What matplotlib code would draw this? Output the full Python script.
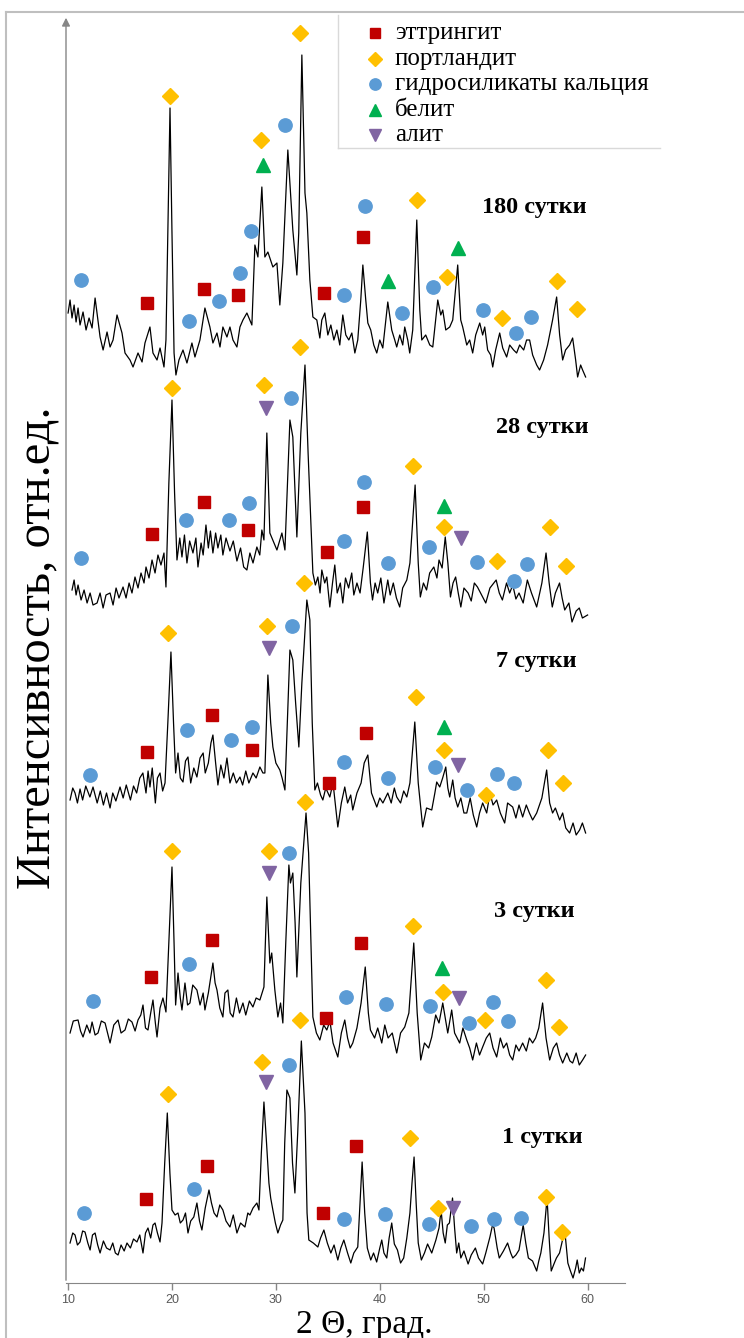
import numpy as np
import matplotlib
matplotlib.use('Agg')
import matplotlib.pyplot as plt
from matplotlib.lines import Line2D

# XRD patterns (2theta, intensity in arbitrary units, curves already stacked)
day180 = [(10.00, 970), (10.19, 983), (10.38, 965), (10.58, 978), (10.77, 961), (10.96, 975), (11.15, 958),
          (11.44, 971), (11.73, 953), (12.02, 965), (12.31, 955), (12.60, 985), (13.08, 946), (13.37, 933),
          (13.75, 951), (14.04, 936), (14.33, 943), (14.71, 968), (15.19, 950), (15.48, 930), (15.96, 923),
          (16.25, 916), (16.73, 930), (17.12, 921), (17.40, 940), (17.88, 956), (18.17, 930), (18.56, 923),
          (18.85, 935), (19.23, 916), (19.42, 943), (19.62, 1060), (19.81, 1175), (20.00, 1050), (20.20, 930),
          (20.38, 908), (20.67, 923), (21.06, 933), (21.44, 920), (21.92, 940), (22.21, 926), (22.69, 943),
          (23.17, 975), (23.65, 956), (23.94, 940), (24.33, 950), (24.62, 936), (24.90, 956), (25.29, 946),
          (25.58, 956), (25.87, 943), (26.25, 936), (26.54, 956), (26.83, 963), (27.21, 970), (27.69, 958),
          (27.98, 1038), (28.27, 1026), (28.65, 1096), (28.94, 1026), (29.23, 1031), (29.71, 1016), (30.10, 1020),
          (30.38, 978), (30.67, 1020), (31.15, 1133), (31.63, 1053), (32.02, 1008), (32.20, 1050), (32.50, 1228),
          (32.80, 1090), (32.98, 1070), (33.27, 1003), (33.56, 966), (33.94, 963), (34.23, 945), (34.42, 963),
          (34.71, 970), (35.00, 948), (35.29, 958), (35.58, 943), (35.87, 953), (36.15, 938), (36.44, 968),
          (36.73, 948), (37.02, 943), (37.31, 950), (37.60, 930), (37.88, 943), (38.17, 983), (38.37, 1018),
          (38.65, 983), (38.85, 960), (39.13, 953), (39.42, 938), (39.71, 930), (40.00, 943), (40.29, 935),
          (40.77, 981), (41.15, 953), (41.44, 943), (41.63, 936), (41.92, 948), (42.21, 938), (42.40, 956),
          (42.69, 943), (42.88, 930), (43.17, 953), (43.56, 1063), (43.85, 973), (44.04, 943), (44.42, 948),
          (44.81, 938), (45.10, 936), (45.38, 963), (45.58, 983), (45.87, 968), (46.06, 973), (46.35, 953),
          (46.73, 956), (47.02, 963), (47.50, 1018), (47.79, 963), (47.98, 956), (48.37, 938), (48.65, 943),
          (48.94, 930), (49.23, 948), (49.62, 960), (49.90, 948), (50.10, 956), (50.38, 933), (50.67, 928),
          (50.87, 916), (51.15, 933), (51.54, 950), (51.83, 935), (52.21, 926), (52.50, 938), (52.88, 933),
          (53.17, 930), (53.46, 938), (53.85, 933), (54.13, 943), (54.42, 943), (54.71, 928), (55.10, 918),
          (55.38, 913), (55.77, 923), (56.15, 938), (56.63, 963), (57.02, 986), (57.31, 948), (57.60, 923),
          (57.88, 933), (58.27, 938), (58.56, 945), (58.85, 923), (59.04, 906), (59.33, 918), (59.52, 913),
          (59.81, 906)]

day28 = [(10.38, 693), (10.58, 703), (10.77, 688), (10.96, 698), (11.25, 683), (11.54, 693), (11.83, 680),
         (12.12, 690), (12.40, 678), (12.79, 680), (13.08, 690), (13.37, 675), (13.65, 688), (14.04, 690),
         (14.33, 678), (14.62, 695), (14.90, 685), (15.29, 696), (15.58, 685), (15.87, 700), (16.15, 690),
         (16.44, 706), (16.73, 695), (17.02, 710), (17.31, 700), (17.50, 716), (17.79, 705), (18.08, 723),
         (18.37, 710), (18.65, 728), (18.94, 718), (19.23, 730), (19.42, 696), (19.70, 800), (20.00, 883),
         (20.25, 790), (20.48, 723), (20.75, 745), (20.96, 726), (21.20, 748), (21.44, 720), (21.70, 742),
         (22.02, 730), (22.30, 745), (22.50, 716), (22.80, 740), (23.00, 728), (23.27, 758), (23.50, 735),
         (23.70, 752), (23.94, 730), (24.20, 750), (24.42, 735), (24.70, 748), (24.90, 728), (25.20, 745),
         (25.58, 732), (25.90, 742), (26.25, 722), (26.60, 735), (26.90, 716), (27.21, 713), (27.50, 730),
         (27.80, 720), (28.17, 736), (28.45, 728), (28.65, 753), (28.85, 743), (29.13, 850), (29.42, 750),
         (30.10, 733), (30.58, 750), (30.87, 733), (31.35, 863), (31.63, 846), (32.02, 746), (32.40, 850),
         (32.80, 918), (33.10, 830), (33.56, 710), (33.80, 698), (34.04, 706), (34.25, 690), (34.42, 713),
         (34.70, 700), (34.90, 706), (35.19, 676), (35.45, 700), (35.67, 718), (35.90, 690), (36.20, 700),
         (36.44, 680), (36.70, 705), (37.00, 695), (37.30, 710), (37.50, 688), (37.80, 700), (38.10, 690),
         (38.40, 715), (38.80, 751), (39.10, 700), (39.30, 683), (39.55, 700), (39.80, 690), (40.10, 705),
         (40.40, 680), (40.77, 703), (41.00, 688), (41.30, 700), (41.60, 685), (41.92, 676), (42.20, 695),
         (42.60, 703), (42.90, 720), (43.40, 798), (43.70, 720), (43.90, 686), (44.20, 700), (44.50, 693),
         (44.80, 710), (45.20, 716), (45.50, 705), (45.70, 723), (46.00, 715), (46.30, 746), (46.55, 720),
         (46.80, 686), (47.05, 700), (47.30, 706), (47.55, 690), (47.80, 676), (48.10, 695), (48.50, 690),
         (48.80, 682), (49.10, 700), (49.40, 696), (49.80, 688), (50.20, 680), (50.60, 695), (51.20, 703),
         (51.50, 690), (51.80, 683), (52.20, 700), (52.50, 690), (52.80, 698), (53.10, 684), (53.40, 690),
         (53.80, 680), (54.20, 703), (54.60, 690), (55.10, 676), (55.60, 700), (56.00, 730), (56.30, 700),
         (56.60, 676), (56.90, 690), (57.30, 700), (57.55, 685), (57.80, 673), (58.20, 680), (58.50, 661),
         (58.90, 672), (59.20, 675), (59.50, 665), (60.00, 668)]

day7 = [(10.19, 483), (10.45, 495), (10.67, 490), (10.90, 480), (11.15, 494), (11.40, 483), (11.70, 497),
        (12.10, 486), (12.40, 496), (12.80, 480), (13.10, 492), (13.40, 478), (13.70, 490), (14.04, 475),
        (14.30, 490), (14.60, 482), (15.00, 496), (15.30, 485), (15.60, 498), (16.00, 483), (16.30, 497),
        (16.60, 490), (16.90, 505), (17.20, 510), (17.50, 490), (17.70, 512), (17.88, 496), (18.10, 515),
        (18.40, 480), (18.60, 505), (18.85, 510), (19.10, 492), (19.33, 500), (19.60, 560), (19.90, 631),
        (20.15, 560), (20.35, 510), (20.58, 530), (20.80, 505), (21.06, 501), (21.30, 522), (21.54, 526),
        (21.80, 500), (22.10, 515), (22.40, 506), (22.70, 525), (23.00, 530), (23.20, 510), (23.50, 520),
        (23.75, 540), (23.94, 548), (24.20, 520), (24.42, 498), (24.70, 518), (25.00, 505), (25.29, 525),
        (25.58, 500), (25.90, 510), (26.20, 500), (26.54, 506), (26.80, 498), (27.10, 512), (27.40, 500),
        (27.79, 510), (28.10, 505), (28.46, 516), (28.75, 510), (28.94, 510), (29.23, 608), (29.50, 560),
        (29.71, 536), (30.00, 520), (30.38, 513), (30.60, 505), (30.87, 493), (31.10, 560), (31.35, 633),
        (31.63, 623), (31.90, 580), (32.21, 536), (32.50, 600), (32.98, 683), (33.27, 663), (33.50, 560),
        (33.75, 493), (34.00, 500), (34.30, 488), (34.52, 483), (34.80, 495), (35.19, 486), (35.50, 500),
        (35.96, 456), (36.30, 480), (36.63, 496), (36.90, 480), (37.20, 488), (37.40, 473), (37.80, 490),
        (38.20, 500), (38.50, 520), (38.85, 528), (39.20, 490), (39.71, 476), (40.00, 485), (40.30, 480),
        (40.77, 490), (41.10, 480), (41.40, 495), (41.63, 486), (42.00, 480), (42.30, 492), (42.60, 486),
        (42.90, 500), (43.37, 561), (43.70, 500), (44.13, 456), (44.50, 475), (45.00, 473), (45.30, 490),
        (45.48, 501), (45.77, 496), (46.05, 505), (46.35, 516), (46.55, 495), (46.73, 486), (47.02, 503),
        (47.25, 485), (47.50, 476), (47.80, 485), (48.10, 470), (48.37, 470), (48.70, 485), (49.00, 468),
        (49.33, 456), (49.60, 470), (49.90, 480), (50.29, 470), (50.60, 490), (50.90, 478), (51.25, 483),
        (51.60, 470), (52.02, 460), (52.30, 480), (52.79, 476), (53.10, 465), (53.40, 478), (53.75, 466),
        (54.10, 478), (54.40, 470), (54.71, 463), (55.10, 470), (55.60, 485), (56.06, 513), (56.35, 480),
        (56.63, 470), (56.90, 475), (57.31, 463), (57.60, 470), (57.90, 455), (58.27, 450), (58.60, 460),
        (58.90, 448), (59.23, 453), (59.50, 460), (59.81, 450)]

day3 = [(10.19, 250), (10.50, 262), (10.96, 263), (11.20, 252), (11.44, 246), (11.80, 258), (12.10, 250),
        (12.31, 261), (12.60, 248), (12.88, 250), (13.20, 262), (13.56, 260), (13.80, 250), (14.04, 240),
        (14.40, 258), (14.81, 263), (15.10, 250), (15.48, 253), (15.80, 264), (16.15, 261), (16.45, 252),
        (16.73, 263), (17.00, 268), (17.21, 278), (17.45, 255), (17.69, 253), (17.95, 270), (18.17, 283),
        (18.40, 260), (18.56, 246), (18.85, 275), (19.13, 285), (19.42, 271), (19.70, 340), (20.00, 416),
        (20.20, 340), (20.35, 278), (20.58, 310), (20.80, 285), (20.96, 273), (21.25, 300), (21.50, 278),
        (21.73, 280), (22.00, 298), (22.40, 293), (22.70, 278), (23.00, 290), (23.17, 273), (23.50, 290),
        (23.94, 320), (24.15, 300), (24.33, 293), (24.60, 275), (24.90, 266), (25.10, 290), (25.38, 293),
        (25.60, 270), (25.87, 266), (26.20, 285), (26.50, 270), (26.83, 280), (27.10, 268), (27.45, 282),
        (27.79, 276), (28.10, 285), (28.46, 283), (28.85, 296), (29.13, 386), (29.42, 320), (29.60, 330),
        (29.90, 293), (30.19, 266), (30.45, 280), (30.67, 260), (30.95, 340), (31.25, 418), (31.40, 400),
        (31.63, 410), (31.85, 360), (32.02, 306), (32.40, 400), (32.90, 470), (33.15, 430), (33.40, 330),
        (33.56, 266), (33.90, 250), (34.23, 243), (34.60, 258), (34.90, 253), (35.20, 262), (35.50, 240),
        (35.96, 226), (36.30, 250), (36.63, 263), (36.90, 245), (37.15, 235), (37.40, 240), (37.80, 255),
        (38.20, 280), (38.60, 316), (38.90, 270), (39.10, 253), (39.50, 245), (39.80, 255), (40.19, 240),
        (40.48, 258), (40.80, 245), (41.20, 250), (41.63, 230), (42.00, 250), (42.40, 256), (42.80, 270),
        (43.27, 340), (43.60, 270), (43.94, 223), (44.30, 240), (44.70, 235), (45.00, 246), (45.38, 268),
        (45.70, 260), (46.06, 280), (46.30, 265), (46.54, 250), (46.92, 273), (47.20, 250), (47.69, 240),
        (48.00, 255), (48.37, 243), (48.65, 235), (48.94, 223), (49.30, 240), (49.60, 228), (49.90, 236),
        (50.25, 245), (50.58, 250), (50.90, 235), (51.25, 226), (51.60, 245), (51.90, 235), (52.21, 240),
        (52.50, 228), (52.79, 223), (53.10, 238), (53.40, 232), (53.75, 240), (54.10, 232), (54.40, 245),
        (54.71, 240), (55.00, 245), (55.30, 255), (55.67, 280), (56.00, 245), (56.35, 223), (56.70, 235),
        (57.02, 240), (57.30, 228), (57.60, 220), (58.00, 230), (58.30, 222), (58.56, 220), (58.90, 230),
        (59.20, 218), (59.52, 223), (59.81, 228)]

day1 = [(10.19, 40), (10.45, 50), (10.67, 48), (10.90, 38), (11.15, 41), (11.40, 52), (11.63, 51),
        (11.90, 40), (12.12, 33), (12.35, 48), (12.60, 50), (12.85, 38), (13.08, 30), (13.40, 42),
        (13.70, 35), (14.04, 33), (14.30, 40), (14.55, 30), (14.81, 28), (15.10, 38), (15.40, 32),
        (15.67, 40), (16.00, 35), (16.30, 44), (16.63, 41), (16.90, 48), (17.21, 30), (17.45, 50),
        (17.69, 55), (17.95, 45), (18.17, 58), (18.37, 60), (18.60, 50), (18.85, 41), (19.04, 60),
        (19.30, 120), (19.55, 170), (19.80, 110), (20.00, 73), (20.30, 68), (20.58, 70), (20.80, 60),
        (21.06, 63), (21.30, 70), (21.54, 50), (21.80, 62), (22.10, 66), (22.40, 80), (22.65, 62),
        (22.88, 53), (23.20, 75), (23.56, 93), (23.80, 80), (24.05, 70), (24.33, 66), (24.60, 78),
        (24.90, 73), (25.20, 62), (25.58, 56), (25.90, 68), (26.25, 50), (26.60, 60), (27.02, 56),
        (27.30, 70), (27.50, 68), (27.80, 75), (28.17, 80), (28.37, 73), (28.60, 130), (28.85, 181),
        (29.10, 140), (29.33, 100), (29.50, 85), (29.71, 73), (29.95, 60), (30.19, 50), (30.45, 58),
        (30.67, 63), (30.85, 140), (31.06, 193), (31.35, 185), (31.60, 120), (31.83, 90), (32.10, 150),
        (32.45, 242), (32.80, 170), (33.00, 70), (33.17, 43), (33.60, 40), (34.04, 36), (34.30, 45),
        (34.62, 53), (34.95, 40), (35.29, 30), (35.60, 38), (35.96, 23), (36.25, 35), (36.54, 43),
        (36.90, 30), (37.21, 20), (37.50, 30), (37.88, 36), (38.10, 80), (38.30, 121), (38.55, 70),
        (38.80, 35), (39.13, 23), (39.40, 30), (39.70, 21), (40.00, 35), (40.19, 43), (40.40, 30),
        (40.67, 25), (40.90, 45), (41.15, 60), (41.40, 39), (41.70, 33), (42.00, 20), (42.30, 25),
        (42.60, 45), (42.90, 70), (43.10, 100), (43.30, 126), (43.50, 80), (43.70, 40), (44.00, 23),
        (44.30, 30), (44.60, 39), (45.00, 30), (45.40, 43), (45.70, 55), (45.90, 73), (46.10, 50),
        (46.30, 40), (46.50, 58), (46.70, 60), (47.00, 85), (47.20, 55), (47.40, 30), (47.60, 40),
        (47.80, 25), (48.10, 32), (48.50, 19), (48.80, 28), (49.20, 35), (49.50, 25), (49.90, 19),
        (50.20, 30), (50.60, 46), (50.85, 58), (51.00, 55), (51.30, 35), (51.50, 25), (51.90, 32),
        (52.30, 40), (52.60, 30), (52.80, 25), (53.10, 28), (53.40, 33), (53.80, 58), (54.05, 40),
        (54.30, 25), (54.70, 22), (55.10, 12), (55.30, 22), (55.50, 30), (55.80, 50), (56.10, 85),
        (56.30, 45), (56.50, 12), (56.80, 20), (57.00, 25), (57.30, 30), (57.50, 39), (57.80, 53),
        (58.10, 20), (58.35, 12), (58.60, 5), (58.85, 15), (59.00, 23), (59.20, 10), (59.40, 15),
        (59.60, 12), (59.80, 25)]

# phase reflections (2theta, level) for all five patterns
ettringite = [(17.6, 980), (23.1, 994), (26.4, 988), (34.6, 990), (38.4, 1046),
              (18.08, 749), (23.08, 781), (27.31, 753), (34.9, 731), (38.37, 776),
              (17.6, 531), (23.85, 568), (27.7, 533), (35.1, 500), (38.65, 550),
              (17.98, 306), (23.85, 343), (34.8, 265), (38.17, 340),
              (17.5, 84), (23.37, 117), (34.52, 70), (37.7, 137)]
portlandite = [(19.8, 1187), (28.56, 1143), (32.31, 1250), (43.56, 1083), (46.44, 1006), (51.73, 965),
               (57.02, 1002), (58.94, 974),
               (20.0, 895), (28.85, 898), (32.31, 936), (43.17, 817), (46.15, 756), (51.25, 722),
               (56.35, 756), (57.88, 717),
               (19.62, 650), (29.13, 657), (32.7, 700), (43.46, 586), (46.15, 533), (50.19, 488),
               (56.15, 533), (57.6, 500),
               (20.0, 432), (29.33, 432), (32.8, 481), (43.17, 357), (46.06, 291), (50.1, 263),
               (55.96, 303), (57.21, 256),
               (19.62, 189), (28.65, 221), (32.31, 263), (42.88, 145), (45.58, 75), (55.96, 86), (57.5, 51)]
hydrosilicates = [(11.25, 1003), (21.63, 962), (24.52, 982), (26.54, 1010), (27.6, 1052), (30.87, 1158),
                  (36.54, 988), (38.56, 1077), (42.12, 970), (45.1, 996), (49.9, 973), (53.08, 950),
                  (54.52, 966),
                  (11.25, 725), (21.35, 763), (25.48, 763), (27.4, 780), (31.44, 885), (36.54, 742),
                  (38.46, 801), (40.77, 720), (44.71, 736), (49.33, 721), (52.88, 702), (54.13, 719),
                  (12.12, 508), (21.44, 553), (25.67, 543), (27.69, 556), (31.54, 657), (36.54, 521),
                  (40.77, 505), (45.29, 516), (48.37, 493), (51.25, 509), (52.88, 500),
                  (12.4, 282), (21.63, 319), (31.25, 430), (36.73, 286), (40.58, 279), (44.81, 277),
                  (48.56, 260), (50.87, 281), (52.31, 262),
                  (11.54, 70), (22.12, 94), (31.25, 218), (36.54, 64), (40.48, 69), (44.71, 59),
                  (48.75, 57), (50.96, 64), (53.56, 65)]
belite = [(28.75, 1118), (40.77, 1002), (47.5, 1035), (46.15, 777), (46.15, 556), (45.96, 315)]
alite = [(29.04, 875), (47.79, 745), (29.33, 635), (47.5, 518), (29.33, 410), (47.6, 285),
         (29.04, 201), (47.0, 75)]

patterns = [day180, day28, day7, day3, day1]
day_labels = ['180 сутки', '28 сутки', '7 сутки', '3 сутки', '1 сутки']
day_label_pos = [(54.9, 1076), (55.67, 856), (55.1, 621), (54.9, 371), (55.67, 146)]

phase_names = ['эттрингит', 'портландит', 'гидросиликаты кальция', 'белит', 'алит']
phase_data = [ettringite, portlandite, hydrosilicates, belite, alite]
phase_markers = ['s', 'D', 'o', '^', 'v']
phase_colors = ['#C00000', '#FFC000', '#5B9BD5', '#00B050', '#8064A2']
phase_sizes = [9.3, 7.8, 9.6, 9.8, 10.5]

W, H = 744, 1338
fig = plt.figure(figsize=(W / 100, H / 100), dpi=100)
ax = fig.add_axes([66 / W, 55 / H, 559 / W, 1268 / H])

for pat in patterns:
    x, y = zip(*pat)
    ax.plot(x, y, color='black', lw=0.9, zorder=2)

for data, m, c, s in zip(phase_data, phase_markers, phase_colors, phase_sizes):
    x, y = zip(*data)
    ax.plot(x, y, ls='none', marker=m, color=c, ms=s, mec=c, zorder=3)

for lab, (lx, ly) in zip(day_labels, day_label_pos):
    ax.text(lx, ly, lab, fontsize=17.5, fontweight='bold', family='Liberation Serif',
            ha='center', va='center')

gray = '#868686'
ax.set_xlim(9.8, 63.6)
ax.set_ylim(0, 1268)
for s in ['top', 'right', 'left']:
    ax.spines[s].set_visible(False)
ax.spines['bottom'].set_color(gray)
ax.set_yticks([])
ax.set_xticks([10, 20, 30, 40, 50, 60])
ax.tick_params(axis='x', colors=gray, length=5, width=1, pad=3, labelsize=9)
for t in ax.get_xticklabels():
    t.set_color('#595959')
    t.set_family('Liberation Sans')
ax.annotate('', xy=(0, 1.0), xytext=(0, 0), xycoords='axes fraction',
            arrowprops=dict(arrowstyle='-|>', color=gray, lw=1, mutation_scale=12))

fig.text(364 / W, 1 - 1333 / H, '2 Θ, град.', fontsize=24, family='Liberation Serif',
         ha='center', va='baseline')
fig.text(38 / W, 1 - 648 / H, 'Интенсивность, отн.ед.', fontsize=35, family='Liberation Serif',
         rotation=90, ha='center', va='center')

# legend, drawn entry by entry
for i, (name, m, c, s) in enumerate(zip(phase_names, phase_markers, phase_colors, phase_sizes)):
    yy = 1 - (33 + 25.5 * i) / H
    fig.add_artist(Line2D([375 / W], [yy], marker=m, color=c, mec=c, ms=s * 0.85, ls='none',
                          transform=fig.transFigure))
    fig.text(395 / W, yy, name, fontsize=18, family='Liberation Serif', va='center', ha='left')
fig.add_artist(Line2D([338 / W, 338 / W], [1 - 15 / H, 1 - 148 / H], color='#D9D9D9', lw=1,
                      transform=fig.transFigure))
fig.add_artist(Line2D([338 / W, 660 / W], [1 - 148 / H, 1 - 148 / H], color='#D9D9D9', lw=1,
                      transform=fig.transFigure))

# outer chart frame
fig.add_artist(Line2D([6 / W, 1.0], [1 - 12 / H, 1 - 12 / H], color='#BFBFBF', lw=1.5,
                      transform=fig.transFigure))
fig.add_artist(Line2D([6 / W, 6 / W], [1 - 12 / H, 0], color='#BFBFBF', lw=1.5,
                      transform=fig.transFigure))

plt.savefig('out.png', dpi=100)
